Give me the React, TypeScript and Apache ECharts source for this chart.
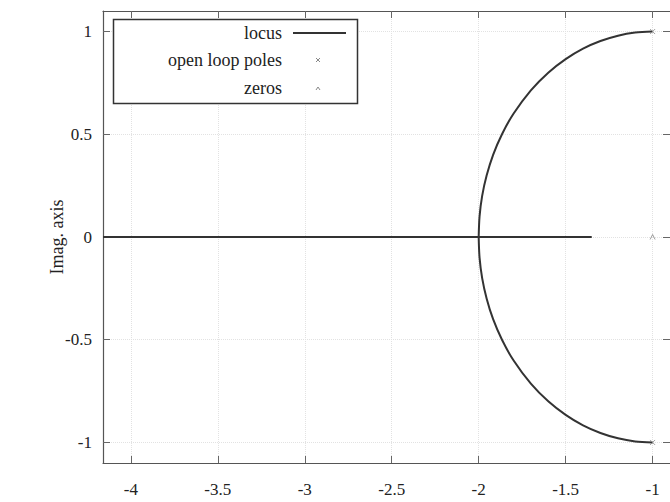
import React, { useEffect, useRef } from "react";
import * as echarts from "echarts";

const xTicks = [-4, -3.5, -3, -2.5, -2, -1.5, -1];
const yTicks = [-1, -0.5, 0, 0.5, 1];
const xMin = -4.16;
const xMax = -0.9;
const yMin = -1.1;
const yMax = 1.1;

// upper branch of the locus circle, from the pole to the break-in point
const upperBranch = [
  [-1.0, 1.0],
  [-1.1, 0.995],
  [-1.199, 0.98],
  [-1.3, 0.954],
  [-1.4, 0.917],
  [-1.5, 0.866],
  [-1.6, 0.8],
  [-1.7, 0.714],
  [-1.8, 0.6],
  [-1.866, 0.5],
  [-1.917, 0.4],
  [-1.954, 0.3],
  [-1.98, 0.2],
  [-1.995, 0.1],
  [-2.0, 0.0],
];
const lowerBranch = [
  [-1.0, -1.0],
  [-1.1, -0.995],
  [-1.199, -0.98],
  [-1.3, -0.954],
  [-1.4, -0.917],
  [-1.5, -0.866],
  [-1.6, -0.8],
  [-1.7, -0.714],
  [-1.8, -0.6],
  [-1.866, -0.5],
  [-1.917, -0.4],
  [-1.954, -0.3],
  [-1.98, -0.2],
  [-1.995, -0.1],
  [-2.0, 0.0],
];
const realBranch = [
  [-4.16, 0],
  [-2.0, 0],
  [-1.35, 0],
];
const poles = [
  [-1, 1],
  [-1, -1],
];
const zeros = [[-1, 0]];

const legendNames = ["locus", "open loop poles", "zeros"];

const FONT = "Liberation Serif";
const INK = "#222";

export default function App() {
  const ref = useRef<HTMLDivElement>(null);
  useEffect(() => {
    document.body.style.margin = "0";
    const chart = echarts.init(ref.current!, null, { renderer: "svg" });
    const gridLeft = 103;
    const gridTop = 11;
    const gridWidth = 567;
    const gridHeight = 452;

    const xCommon = {
      type: "value",
      min: xMin,
      max: xMax,
      axisLine: { show: true, onZero: false, lineStyle: { color: "#555", width: 1.2 } },
      axisTick: { show: true, inside: true, length: 7, customValues: xTicks, lineStyle: { color: "#666" } },
      minorTick: { show: false },
    };
    const yCommon = {
      type: "value",
      min: yMin,
      max: yMax,
      axisTick: { show: true, inside: true, length: 7, customValues: yTicks, lineStyle: { color: "#666" } },
    };

    const lineStyle = { color: "#333", width: 2 };

    const option = {
      animation: false,
      backgroundColor: "#fff",
      grid: { left: gridLeft, top: gridTop, width: gridWidth, height: gridHeight, containLabel: false },
      xAxis: [
        {
          ...xCommon,
          position: "bottom",
          axisLabel: {
            customValues: xTicks,
            margin: 18,
            fontFamily: FONT,
            fontSize: 17,
            color: INK,
          },
          splitLine: { show: true, lineStyle: { color: "#e2e2e2", type: "dotted", width: 1 } },
        },
        {
          ...xCommon,
          position: "top",
          axisLabel: { show: false },
          splitLine: { show: false },
        },
      ],
      yAxis: [
        {
          ...yCommon,
          position: "left",
          axisLine: { show: true, onZero: false, lineStyle: { color: "#555", width: 1.2 } },
          name: "Imag. axis",
          nameLocation: "middle",
          nameGap: 37,
          nameRotate: 90,
          nameMoveOverlap: false,
          nameTextStyle: { fontFamily: FONT, fontSize: 18, color: INK },
          axisLabel: {
            customValues: yTicks,
            margin: 11,
            fontFamily: FONT,
            fontSize: 17,
            color: INK,
          },
          splitLine: { show: true, lineStyle: { color: "#e2e2e2", type: "dotted", width: 1 } },
        },
        {
          ...yCommon,
          position: "right",
          axisLine: { show: false, onZero: false },
          axisLabel: { show: false },
          splitLine: { show: false },
        },
      ],
      series: [
        {
          name: legendNames[0],
          type: "line",
          data: realBranch,
          showSymbol: false,
          lineStyle,
          z: 3,
        },
        {
          name: legendNames[0],
          type: "line",
          data: upperBranch,
          showSymbol: false,
          smooth: 0.3,
          lineStyle,
          z: 3,
        },
        {
          name: legendNames[0],
          type: "line",
          data: lowerBranch,
          showSymbol: false,
          smooth: 0.3,
          lineStyle,
          z: 3,
        },
        {
          name: legendNames[1],
          type: "scatter",
          data: poles,
          symbol: "path://M0,0L10,10M10,0L0,10",
          symbolSize: 5,
          itemStyle: { color: "none", borderColor: "#888", borderWidth: 1 },
          z: 4,
        },
        {
          name: legendNames[2],
          type: "scatter",
          data: zeros,
          symbol: "path://M0,10L5,0L10,10",
          symbolSize: 5,
          itemStyle: { color: "none", borderColor: "#888", borderWidth: 1 },
          z: 4,
        },
      ],
      graphic: [
        {
          type: "rect",
          shape: { x: 113.5, y: 19.5, width: 244, height: 84 },
          style: { fill: "#fff", stroke: "#333", lineWidth: 1.5 },
          z: 100,
        },
        {
          type: "text",
          x: 282,
          y: 33,
          style: { text: legendNames[0], textAlign: "right", textVerticalAlign: "middle", font: `18px "${FONT}"`, fill: INK },
          z: 101,
        },
        {
          type: "line",
          shape: { x1: 293, y1: 33, x2: 346, y2: 33 },
          style: { stroke: "#333", lineWidth: 2 },
          z: 101,
        },
        {
          type: "text",
          x: 282,
          y: 60,
          style: { text: legendNames[1], textAlign: "right", textVerticalAlign: "middle", font: `18px "${FONT}"`, fill: INK },
          z: 101,
        },
        {
          type: "polyline",
          shape: { points: [[316, 58], [320, 62]] },
          style: { stroke: "#888", lineWidth: 1 },
          z: 101,
        },
        {
          type: "polyline",
          shape: { points: [[320, 58], [316, 62]] },
          style: { stroke: "#888", lineWidth: 1 },
          z: 101,
        },
        {
          type: "text",
          x: 282,
          y: 88,
          style: { text: legendNames[2], textAlign: "right", textVerticalAlign: "middle", font: `18px "${FONT}"`, fill: INK },
          z: 101,
        },
        {
          type: "polyline",
          shape: { points: [[316, 90], [318, 87], [320, 90]] },
          style: { stroke: "#888", lineWidth: 1, fill: "none" },
          z: 101,
        },
      ],
    };
    chart.setOption(option as any);
    return () => chart.dispose();
  }, []);
  return (
    <div
      ref={ref}
      style={{ position: "absolute", left: 0, top: 0, width: 670, height: 502 }}
    />
  );
}
